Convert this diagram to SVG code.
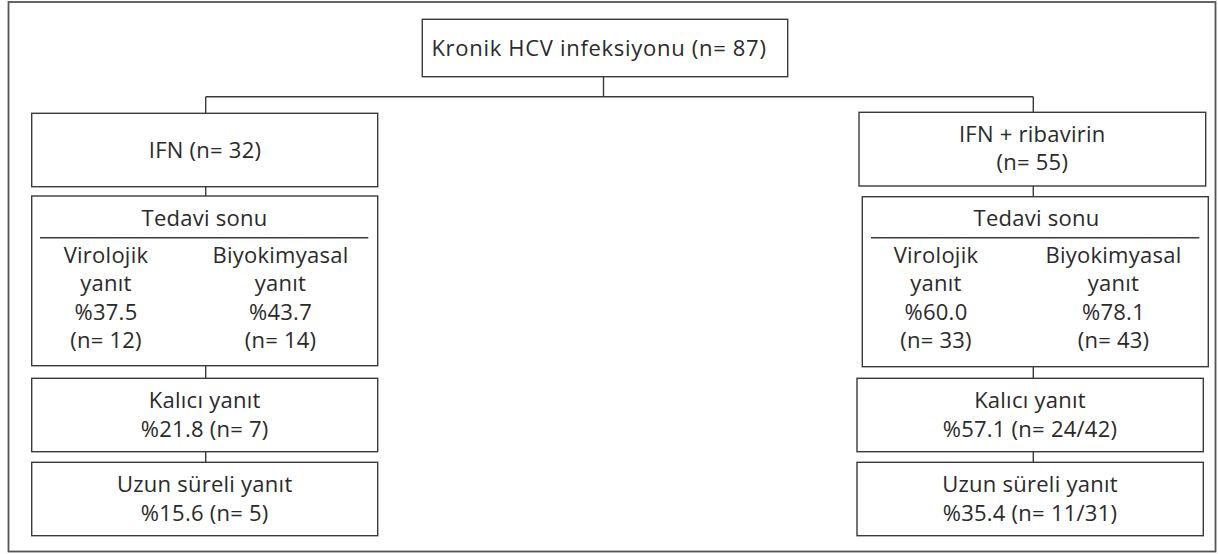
<svg xmlns="http://www.w3.org/2000/svg" width="1218" height="554" viewBox="0 0 1218 554">
<style>
.box{fill:#fff;stroke:#3a3a3a;stroke-width:1.4}
.frame{fill:#fff;stroke:#555;stroke-width:1.8}
.ln{fill:none;stroke:#3a3a3a;stroke-width:1.4}
text{font-family:"Open Sans","Liberation Sans",sans-serif;font-size:22px;letter-spacing:0.25px;fill:#2a2a2a;text-anchor:middle}
</style>
<rect class="frame" x="8.5" y="2" width="1207" height="549.5"/>
<g id="connectors">
<path class="ln" d="M603.5 76.7V96.7M205.7 96.7H1033.3M205.7 96.7V113.3M1033.3 96.7V112.3"/>
<path class="ln" d="M205.7 186.7V196M205.7 365.7V378.3M205.7 451.7V462.3"/>
<path class="ln" d="M1033.3 186V196.7M1033.3 366.7V378.3M1033.3 451.7V462.3"/>
</g>
<g id="root">
<rect class="box" x="422.3" y="19.3" width="365.4" height="57.4"/>
<text x="599" y="56" font-size="24" style="letter-spacing:0.7px">Kronik HCV infeksiyonu (n= 87)</text>
</g>
<g id="ifn">
<rect class="box" x="31.7" y="113.3" width="346" height="73.4"/>
<text x="205" y="157.5">IFN (n= 32)</text>
</g>
<g id="ifn-end">
<rect class="box" x="31.7" y="196" width="346" height="169.7"/>
<text x="204.5" y="225.5">Tedavi sonu</text>
<line class="ln" x1="40" y1="237.7" x2="368.3" y2="237.7"/>
<text x="106" y="262.5">Virolojik</text>
<text x="106" y="291">yanıt</text>
<text x="106" y="319.5">%37.5</text>
<text x="106" y="347.5">(n= 12)</text>
<text x="280.5" y="262.5">Biyokimyasal</text>
<text x="280.5" y="291">yanıt</text>
<text x="280.5" y="319.5">%43.7</text>
<text x="280.5" y="347.5">(n= 14)</text>
</g>
<g id="ifn-kalici">
<rect class="box" x="31.7" y="378.3" width="346" height="73.4"/>
<text x="204.7" y="407.5">Kalıcı yanıt</text>
<text x="204.7" y="436.5">%21.8 (n= 7)</text>
</g>
<g id="ifn-uzun">
<rect class="box" x="31.7" y="462.3" width="346" height="73.4"/>
<text x="204.7" y="491.5">Uzun süreli yanıt</text>
<text x="204.7" y="520.5">%15.6 (n= 5)</text>
</g>
<g id="rib">
<rect class="box" x="859" y="112.3" width="346.7" height="73.7"/>
<text x="1032.3" y="141.5">IFN + ribavirin</text>
<text x="1032.3" y="169.5">(n= 55)</text>
</g>
<g id="rib-end">
<rect class="box" x="862.3" y="196.7" width="346" height="170"/>
<text x="1036.5" y="225.5">Tedavi sonu</text>
<line class="ln" x1="871" y1="237.7" x2="1199.3" y2="237.7"/>
<text x="936" y="262.5">Virolojik</text>
<text x="936" y="291">yanıt</text>
<text x="936" y="319.5">%60.0</text>
<text x="936" y="347.5">(n= 33)</text>
<text x="1113.5" y="262.5">Biyokimyasal</text>
<text x="1113.5" y="291">yanıt</text>
<text x="1113.5" y="319.5">%78.1</text>
<text x="1113.5" y="347.5">(n= 43)</text>
</g>
<g id="rib-kalici">
<rect class="box" x="857" y="378.3" width="346.3" height="73.4"/>
<text x="1030" y="407.5">Kalıcı yanıt</text>
<text x="1030" y="436.5">%57.1 (n= 24/42)</text>
</g>
<g id="rib-uzun">
<rect class="box" x="857" y="462.3" width="346.3" height="73.4"/>
<text x="1030" y="491.5">Uzun süreli yanıt</text>
<text x="1030" y="520.5">%35.4 (n= 11/31)</text>
</g>
</svg>
